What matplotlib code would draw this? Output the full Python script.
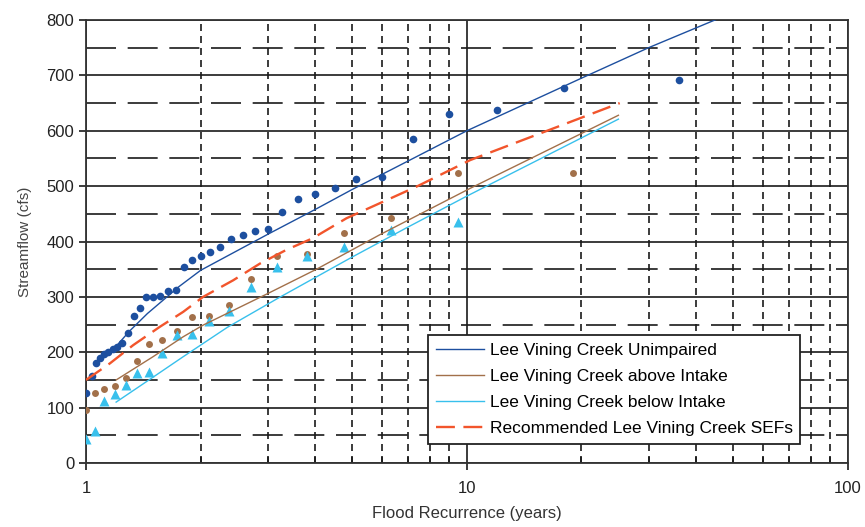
import matplotlib
matplotlib.use("Agg")
import matplotlib.pyplot as plt
from matplotlib.ticker import FixedLocator, LogLocator, MultipleLocator, FuncFormatter, NullFormatter

plt.rcParams['font.family'] = ['Liberation Sans', 'DejaVu Sans']

# observed annual peaks (recurrence interval in years, flow in cfs)
unimp_T = [1.0, 1.035, 1.06, 1.088, 1.115, 1.14, 1.175, 1.206, 1.24, 1.29, 1.336, 1.386,
           1.44, 1.50, 1.56, 1.64, 1.72, 1.81, 1.90, 2.01, 2.12, 2.25, 2.41, 2.58, 2.78,
           3.0, 3.28, 3.6, 4.0, 4.5, 5.13, 6.0, 7.2, 9.0, 12.0, 18.0, 36.0]
unimp_Q = [126, 158, 180, 190, 197, 200, 206, 210, 217, 235, 265, 280,
           300, 300, 301, 310, 312, 354, 366, 374, 381, 390, 404, 412, 419,
           423, 454, 476, 485, 497, 513, 516, 586, 631, 637, 677, 692]

above_T = [1.0, 1.056, 1.118, 1.19, 1.27, 1.36, 1.46, 1.58, 1.73, 1.90, 2.11, 2.38,
           2.71, 3.17, 3.8, 4.75, 6.33, 9.5, 19.0]
above_Q = [96, 127, 133, 139, 153, 185, 215, 223, 238, 263, 265, 285,
           332, 374, 377, 416, 443, 523, 524]

below_T = [1.0, 1.056, 1.118, 1.19, 1.27, 1.36, 1.46, 1.58, 1.73, 1.90, 2.11, 2.38,
           2.71, 3.17, 3.8, 4.75, 6.33, 9.5]
below_Q = [43, 57, 112, 125, 141, 163, 165, 199, 231, 233, 257, 274,
           317, 354, 373, 391, 421, 436]

# fitted frequency curves
unimp_fit_T = [1.18, 1.3, 1.45, 1.6, 1.75, 2.0, 3.0, 4.0, 5.0, 6.3, 10, 20, 30, 47]
unimp_fit_Q = [205, 238, 270, 295, 318, 348, 413, 458, 494, 529, 600, 695, 750, 806]

above_fit_T = [1.2, 1.5, 1.8, 2.03, 3.0, 4.03, 5.9, 10.2, 25]
above_fit_Q = [150, 192, 228, 249, 306, 350, 412, 496, 628]

below_fit_T = [1.2, 1.5, 1.8, 2.35, 3.2, 5.0, 7.0, 10, 25]
below_fit_Q = [110, 155, 192, 245, 298, 372, 426, 482, 621]

sef_T = [1.0, 1.156, 1.331, 1.563, 1.8, 2.03, 2.435, 2.86, 3.36, 3.94, 4.83, 5.9, 7.37, 10.2, 25.2]
sef_Q = [150, 180, 213, 246, 273, 300, 330, 360, 385, 406, 442, 469, 499, 547, 650]

c_blue = '#1d4f9f'
c_brown = '#a2704a'
c_cyan = '#38c0ec'
c_red = '#f2552c'
c_grid = '#1a1a1a'

fig = plt.figure(figsize=(8.65, 5.27), dpi=100)
ax = fig.add_axes([0.0994, 0.1214, 0.8806, 0.8406])

ax.set_xscale('log')
ax.set_xlim(1, 100)
ax.set_ylim(0, 800)

# markers
ax.plot(above_T, above_Q, 'o', color=c_brown, ms=5, mec='none', zorder=3)
ax.plot(below_T, below_Q, '^', color=c_cyan, ms=6.5, mec='none', zorder=4)
ax.plot(unimp_T, unimp_Q, 'o', color=c_blue, ms=5.5, mec='none', zorder=5)

# curves
ax.plot(unimp_fit_T, unimp_fit_Q, '-', color=c_blue, lw=1.0, zorder=6,
        label='Lee Vining Creek Unimpaired')
ax.plot(above_fit_T, above_fit_Q, '-', color=c_brown, lw=1.0, zorder=6,
        label='Lee Vining Creek above Intake')
ax.plot(below_fit_T, below_fit_Q, '-', color=c_cyan, lw=1.0, zorder=6,
        label='Lee Vining Creek below Intake')
ax.plot(sef_T, sef_Q, color=c_red, lw=1.7, ls=(0, (8, 3.6)), zorder=6,
        label='Recommended Lee Vining Creek SEFs')

# ticks and grid
ax.xaxis.set_major_locator(FixedLocator([1, 10, 100]))
ax.xaxis.set_major_formatter(FuncFormatter(lambda v, p: '%d' % v))
ax.xaxis.set_minor_locator(LogLocator(base=10, subs=range(2, 10)))
ax.xaxis.set_minor_formatter(NullFormatter())
ax.yaxis.set_major_locator(MultipleLocator(100))
ax.yaxis.set_minor_locator(MultipleLocator(50))

ax.set_axisbelow(True)
ax.grid(which='major', axis='y', color=c_grid, lw=1.2, ls='-')
ax.grid(which='minor', axis='y', color=c_grid, lw=1.2, ls=(0, (18, 7)))
ax.grid(which='major', axis='x', color=c_grid, lw=1.2, ls='-')
ax.grid(which='minor', axis='x', color=c_grid, lw=1.2, ls=(0, (4.2, 3.0)))

ax.tick_params(which='major', direction='out', length=5, width=1.2, color=c_grid,
               labelsize=12, labelcolor='#222222')
ax.tick_params(which='minor', axis='x', direction='in', length=4, width=1.2, color=c_grid)
ax.tick_params(which='minor', axis='y', length=0)
ax.tick_params(axis='x', pad=8)

for s in ax.spines.values():
    s.set_color('#333333')
    s.set_linewidth(1.3)

ax.set_xlabel('Flood Recurrence (years)', fontsize=12, color='#333333', labelpad=7)
ax.set_ylabel('Streamflow (cfs)', fontsize=11, color='#444444', labelpad=10)

leg = ax.legend(loc='upper left', bbox_to_anchor=(0.449, 0.289), borderaxespad=0,
                fontsize=12.5, handlelength=2.8, handletextpad=0.3, labelspacing=0.62,
                borderpad=0.45, fancybox=False, framealpha=1, edgecolor='#222222')
leg.get_frame().set_linewidth(1.3)
leg.set_zorder(10)

fig.savefig('out.png', dpi=100)
